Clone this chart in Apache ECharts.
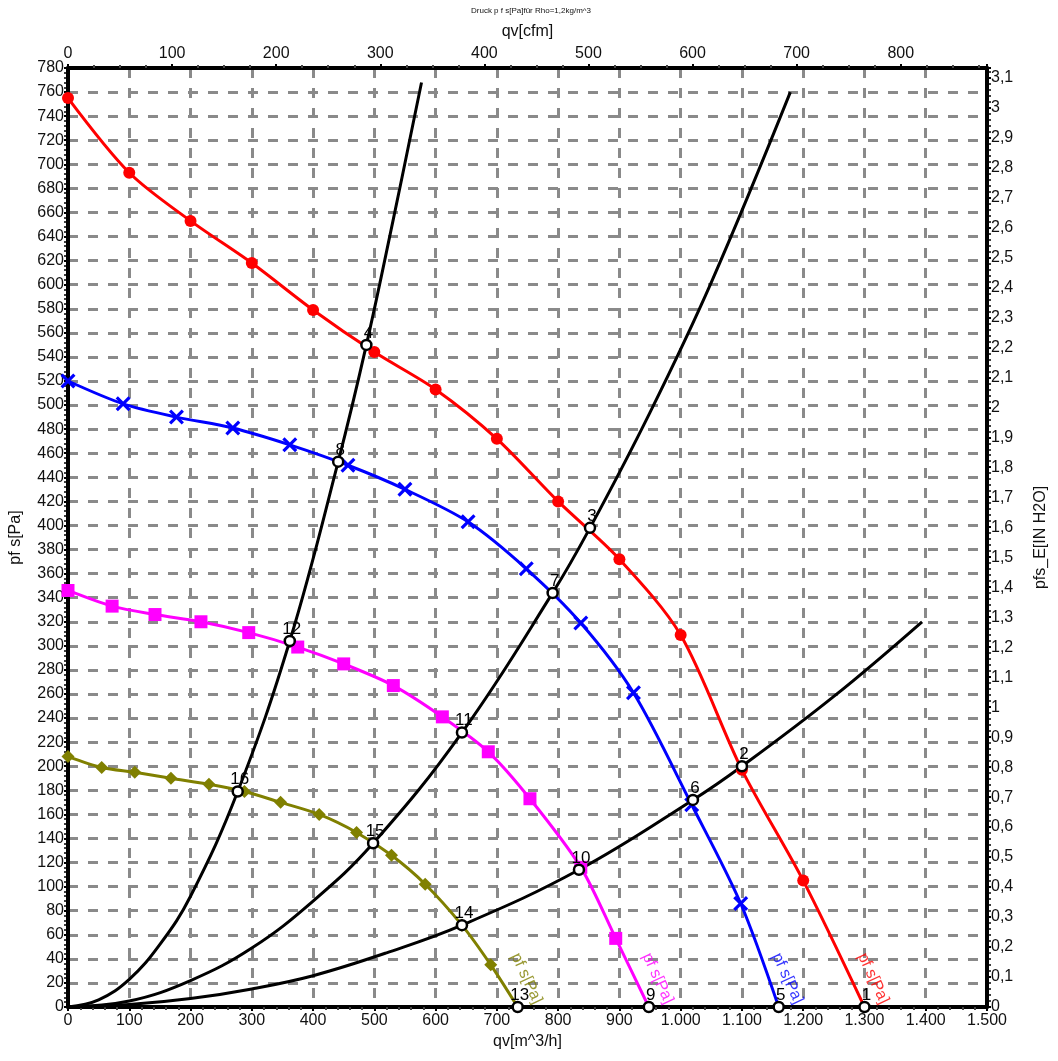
<!DOCTYPE html>
<html>
<head>
<meta charset="utf-8">
<script src="https://cdn.jsdelivr.net/npm/echarts@6/dist/echarts.min.js"></script>
<style>
html,body{margin:0;padding:0;background:#fff;}
#chart{width:1058px;height:1061px;}
</style>
</head>
<body>
<div id="chart"></div>
<script>
// ---- data (qv in m^3/h, pressure in Pa) ----
const redQ = [0,100,200,300,400,500,600,700,800,900,1000,1100,1200,1300];
const redP = [755,693,653,618,579,544,513,472,420,372,309,197,105,0];
const blueQ = [0,90,177,269,362,457,550,653,748,837,923,1018,1098,1160];
const blueP = [520,501,490,481,467,450,430,403,364,319,261,168,86,0];
const magQ = [0,72,142,217,295,375,450,531,611,686,754,837,894,948];
const magP = [346,333,326,320,311,299,285,267,241,212,173,116,57,0];
const oliveQ = [0,55,109,168,230,288,347,410,471,528,583,643,690,734];
const oliveP = [208,199,195,190,185,179,170,160,145,126,102,68,35,0];

const sysAQ = [0,50,100,150,200,277,362,441,487,530,577];
const sysAP = [0,6,23,52,92,179,304,453,550,652,768];
const sysBQ = [0,100,200,300,400,498,643,791,852,950,1050,1179];
const sysBP = [0,5,22,49,88,136,228,344,398,494,602,760];
const sysCQ = [0,100,200,300,400,520,643,834,1020,1100,1250,1394];
const sysCP = [0,2,7,15,26,45,68,114,172,200,258,320];

const opLabels = ['1','2','3','4','5','6','7','8','9','10','11','12','13','14','15','16'];
const opQ = [1300,1100,852,487,1160,1020,791,441,948,834,643,362,734,643,498,277];
const opP = [0,200,398,550,0,172,344,453,0,114,228,304,0,68,136,179];

const curveName = 'pf s[Pa]';
const titleText = 'Druck p f s[Pa]für Rho=1,2kg/m^3';

// ---- helpers ----
const zip = (a, b) => a.map((v, i) => [v, b[i]]);
const font = 'Liberation Sans, Arial, sans-serif';
const fmtThousands = v => String(Math.round(v)).replace(/\B(?=(\d{3})+(?!\d))/g, '.');
const fmtComma = v => String(Math.round(v * 10) / 10).replace('.', ',');
const PA_PER_INH2O = 249.089;
const CFM_TO_M3H = 1.699011;
const xMax = 1500, yMax = 780;

const xMark = 'path://M3,0 L10,7 L17,0 L20,3 L13,10 L20,17 L17,20 L10,13 L3,20 L0,17 L7,10 L0,3 Z';

function fanSeries(q, p, color, symbol, size) {
  const data = zip(q, p).map((d, i) => i === q.length - 1 ? {value: d, symbol: 'none'} : d);
  return {
    type: 'line', data: data, smooth: 0.3, symbol: symbol, symbolSize: size,
    showAllSymbol: true,
    lineStyle: {color: color, width: 3}, itemStyle: {color: color, opacity: 1},
    z: 3, silent: true
  };
}
function sysSeries(q, p) {
  return {
    type: 'line', data: zip(q, p), smooth: 0.4, symbol: 'none',
    lineStyle: {color: '#000', width: 3}, z: 2, silent: true
  };
}
function endTag(q, p, color) {
  const n = q.length - 1;
  return {
    type: 'scatter', data: [[q[n], p[n]]], symbolSize: 1,
    itemStyle: {color: 'rgba(0,0,0,0)'}, z: 6, silent: true,
    label: {
      show: true, formatter: curveName, position: 'inside', rotate: -65,
      align: 'right', verticalAlign: 'bottom', offset: [5, -12],
      color: color, fontSize: 16, fontFamily: font
    }
  };
}

const axisLineStyle = {color: '#000', width: 4};
const labelStyle = {color: '#111', fontSize: 16, fontFamily: font};

const option = {
  animation: false,
  backgroundColor: '#fff',
  title: {
    text: titleText, left: 526, top: 2, textAlign: 'center',
    textStyle: {fontSize: 8, fontWeight: 'normal', color: '#111', fontFamily: font}
  },
  grid: {left: 66, right: 71, top: 68, bottom: 54, containLabel: false},
  xAxis: [
    {
      type: 'value', min: 0, max: xMax, interval: 100, position: 'bottom',
      name: 'qv[m^3/h]', nameLocation: 'middle', nameGap: 26,
      nameTextStyle: {color: '#111', fontSize: 16, fontFamily: font},
      axisLine: {show: true, onZero: false, lineStyle: axisLineStyle},
      axisTick: {show: true, length: 4, lineStyle: {color: '#000', width: 2}},
      minorTick: {show: true, splitNumber: 5, length: 3, lineStyle: {color: '#444', width: 2}},
      axisLabel: Object.assign({margin: 6, formatter: fmtThousands}, labelStyle),
      splitLine: {show: true, lineStyle: {color: '#8a8a8a', width: 3, type: [10, 10]}}
    },
    {
      type: 'value', min: 0, max: xMax / CFM_TO_M3H, interval: 100, position: 'top',
      name: 'qv[cfm]', nameLocation: 'middle', nameGap: 28,
      nameTextStyle: {color: '#111', fontSize: 16, fontFamily: font},
      axisLine: {show: true, onZero: false, lineStyle: axisLineStyle},
      axisTick: {show: true, length: 4, lineStyle: {color: '#000', width: 2}},
      minorTick: {show: true, splitNumber: 4, length: 3, lineStyle: {color: '#444', width: 2}},
      axisLabel: Object.assign({margin: 6, showMaxLabel: false}, labelStyle),
      splitLine: {show: false}
    }
  ],
  yAxis: [
    {
      type: 'value', min: 0, max: yMax, interval: 20, position: 'left',
      name: 'pf s[Pa]', nameLocation: 'middle', nameGap: 44, nameRotate: 90,
      nameTextStyle: {color: '#111', fontSize: 16, fontFamily: font},
      axisLine: {show: true, onZero: false, lineStyle: axisLineStyle},
      axisTick: {show: true, length: 4, lineStyle: {color: '#000', width: 2}},
      minorTick: {show: true, splitNumber: 5, length: 4, lineStyle: {color: '#000', width: 1.5}},
      axisLabel: Object.assign({margin: 4}, labelStyle),
      splitLine: {show: true, lineStyle: {color: '#8a8a8a', width: 3, type: [10, 10]}}
    },
    {
      type: 'value', min: 0, max: yMax / PA_PER_INH2O, interval: 0.1, position: 'right',
      name: 'pfs_E[IN H2O]', nameLocation: 'middle', nameGap: 46, nameRotate: 90,
      nameTextStyle: {color: '#111', fontSize: 16, fontFamily: font},
      axisLine: {show: true, onZero: false, lineStyle: axisLineStyle},
      axisTick: {show: true, length: 4, lineStyle: {color: '#000', width: 2}},
      minorTick: {show: true, splitNumber: 5, length: 4, lineStyle: {color: '#000', width: 1.5}},
      axisLabel: Object.assign({margin: 4, formatter: fmtComma, showMaxLabel: false}, labelStyle),
      splitLine: {show: false}
    }
  ],
  series: [
    sysSeries(sysAQ, sysAP),
    sysSeries(sysBQ, sysBP),
    sysSeries(sysCQ, sysCP),
    fanSeries(redQ, redP, '#ff0000', 'circle', 12),
    fanSeries(blueQ, blueP, '#0000ff', xMark, 15),
    fanSeries(magQ, magP, '#ff00ff', 'rect', 13),
    fanSeries(oliveQ, oliveP, '#808000', 'diamond', 13),
    endTag(redQ, redP, '#ff0000'),
    endTag(blueQ, blueP, '#0000ff'),
    endTag(magQ, magP, '#ff00ff'),
    endTag(oliveQ, oliveP, '#808000'),
    {
      type: 'scatter', z: 5, silent: true,
      data: opQ.map((q, i) => ({value: [q, opP[i]], name: opLabels[i]})),
      symbol: 'circle', symbolSize: 10,
      itemStyle: {color: '#fff', borderColor: '#000', borderWidth: 2.5, opacity: 1},
      label: {
        show: true, position: 'top', distance: 0, offset: [2, 3],
        formatter: p => p.name, color: '#000', fontSize: 17, fontFamily: font
      }
    }
  ]
};

const chart = echarts.init(document.getElementById('chart'), null, {renderer: 'canvas'});
chart.setOption(option);
</script>
</body>
</html>
